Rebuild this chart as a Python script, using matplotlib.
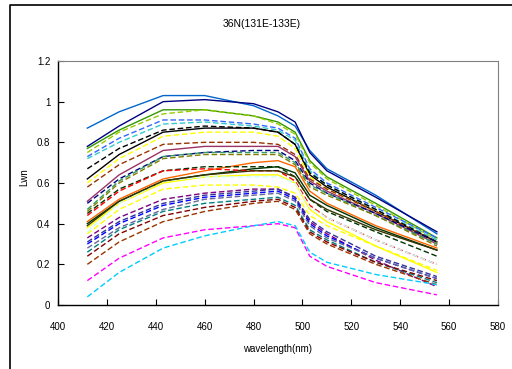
import numpy as np
import matplotlib
matplotlib.use('Agg')
import matplotlib.pyplot as plt
from matplotlib.lines import Line2D
from matplotlib.ticker import FuncFormatter

plt.rcParams['font.family'] = ['Liberation Sans', 'DejaVu Sans']
plt.rcParams['font.size'] = 7

wl = [412, 425, 443, 460, 480, 490, 497, 503, 510, 530, 555]

# upper group
s01 = [.87, .95, 1.03, 1.03, .98, .93, .88, .76, .67, .54, .35]
s02 = [.78, .88, 1.00, 1.01, .99, .95, .90, .75, .66, .53, .36]
s03 = [.77, .86, .96, .96, .93, .90, .85, .71, .63, .50, .33]
s04 = [.75, .85, .94, .96, .93, .89, .84, .70, .62, .49, .32]
s05 = [.73, .82, .91, .91, .89, .87, .82, .67, .60, .48, .33]
s06 = [.72, .80, .89, .90, .88, .86, .81, .66, .59, .47, .32]
s07 = [.67, .77, .86, .88, .87, .85, .79, .65, .59, .47, .31]
s08 = [.62, .74, .85, .87, .87, .85, .79, .64, .58, .46, .31]
s09 = [.60, .72, .83, .85, .85, .83, .77, .63, .57, .46, .30]
s10 = [.58, .69, .79, .80, .80, .79, .74, .62, .57, .46, .31]
s11 = [.51, .64, .76, .78, .78, .78, .73, .61, .56, .45, .30]
s12 = [.50, .62, .73, .75, .76, .76, .71, .60, .55, .45, .31]
s13 = [.47, .61, .73, .75, .75, .75, .70, .59, .55, .44, .30]
s14 = [.46, .60, .72, .74, .74, .74, .69, .58, .54, .44, .29]
# middle group
s15 = [.41, .52, .62, .66, .70, .71, .68, .56, .50, .39, .28]
s16 = [.40, .51, .61, .64, .67, .68, .65, .54, .49, .38, .27]
s17 = [.45, .57, .66, .68, .68, .68, .63, .52, .46, .36, .24]
s18 = [.44, .56, .66, .67, .66, .66, .61, .49, .43, .32, .20]
s19 = [.38, .50, .60, .63, .64, .64, .60, .47, .41, .29, .16]
s20 = [.36, .50, .61, .63, .63, .63, .60, .48, .43, .32, .20]
s21 = [.39, .51, .61, .64, .66, .66, .63, .52, .47, .37, .27]
s22 = [.35, .47, .57, .59, .59, .58, .55, .44, .39, .29, .17]
# lower group
s23 = [.33, .43, .52, .55, .57, .57, .53, .41, .35, .22, .09]
s24 = [.31, .41, .50, .54, .56, .57, .53, .42, .36, .24, .14]
s25 = [.30, .40, .49, .53, .55, .56, .52, .40, .34, .23, .13]
s26 = [.28, .38, .47, .52, .54, .55, .51, .39, .33, .23, .13]
s27 = [.26, .37, .46, .50, .52, .53, .49, .37, .32, .21, .11]
s28 = [.24, .35, .44, .48, .51, .52, .48, .36, .31, .21, .12]
s29 = [.20, .31, .41, .46, .50, .51, .47, .35, .30, .20, .10]
s30 = [.12, .23, .33, .37, .39, .40, .38, .24, .19, .11, .05]
s31 = [.04, .16, .28, .34, .39, .41, .39, .26, .21, .15, .10]

colors = ['#0066CC', '#000080', '#339900', '#99CC00', '#3366FF', '#33CCCC',
          'black', 'black', '#FFFF00', '#993300', '#993366', '#000080',
          '#339966', '#808000',
          '#FF6600', '#003300', '#003300', '#FF0000', '#FFFF00', '#CCFFFF',
          '#333300', '#FFFF00',
          '#800080', '#333399', '#0000FF', '#666699', '#008080', '#800000',
          '#993300', '#FF00FF', '#00CCFF']
styles = ['-', '-', '-', '--', '--', '--', '--', '-', '--', '--', '-', '--',
          '--', '--',
          '-', '-', '--', '--', '-', '--', '-', '--',
          '--', '--', '--', '--', '--', '--', '--', '--', '--']
series = [s01, s02, s03, s04, s05, s06, s07, s08, s09, s10, s11, s12, s13,
          s14, s15, s16, s17, s18, s19, s20, s21, s22, s23, s24, s25, s26,
          s27, s28, s29, s30, s31]

fig = plt.figure(figsize=(5.12, 3.69), dpi=100)
ax = fig.add_axes([58/512, 64/369, 440/512, 244/369])

for vals, c, ls in zip(series, colors, styles):
    if ls == '--':
        ax.plot(wl, vals, color=c, lw=1.0, dashes=(4, 2))
    else:
        ax.plot(wl, vals, color=c, lw=1.0)

ax.set_xlim(400, 580)
ax.set_ylim(0, 1.2)
ax.set_xticks(np.arange(400, 581, 20))
ax.set_yticks(np.arange(0, 1.21, 0.2))
ax.yaxis.set_major_formatter(FuncFormatter(lambda v, p: '%g' % round(v, 1)))
ax.tick_params(axis='x', direction='in', length=4, width=0.8, pad=12)
ax.tick_params(axis='y', direction='in', length=4, width=0.8, pad=5.5)
for s in ['left', 'bottom']:
    ax.spines[s].set_color('black')
    ax.spines[s].set_linewidth(1.0)
for s in ['top', 'right']:
    ax.spines[s].set_color('#808080')
    ax.spines[s].set_linewidth(0.8)

fig.text(262/512, 1 - 24/369, '36N(131E-133E)', ha='center', va='center', fontsize=7.5)
fig.text(278/512, 1 - 349/369, 'wavelength(nm)', ha='center', va='center')
fig.text(24/512, 1 - 177/369, 'Lwn', ha='center', va='center', rotation=90)

# chart area border (cut off at right and bottom)
fig.add_artist(Line2D([9.5/512, 9.5/512, 1.0], [0.0, 1 - 4.5/369, 1 - 4.5/369],
                      transform=fig.transFigure, color='black', lw=1.2))

fig.savefig('out.png', dpi=100)
